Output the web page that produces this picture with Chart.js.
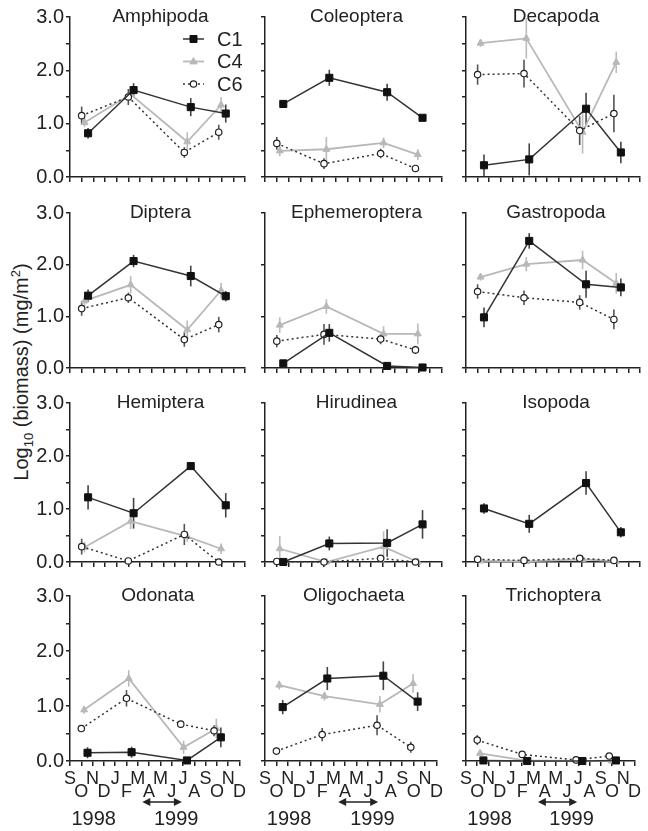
<!DOCTYPE html>
<html>
<head>
<meta charset="utf-8">
<script src="https://cdn.jsdelivr.net/npm/chart.js@4.4.0/dist/chart.umd.min.js"></script>
<style>
  body { margin: 0; background: #fff; width: 648px; height: 831px; overflow: hidden; position: relative;
         font-family: "Liberation Sans", Arial, sans-serif; color: #222; }
  canvas { position: absolute; }
  #ylab { position: absolute; left: 21px; top: 372px; transform: translate(-50%, -50%) rotate(-90deg);
          font-size: 20px; white-space: nowrap; }
  #ylab sub, #ylab sup { font-size: 13px; line-height: 0; }
</style>
</head>
<body>
<div id="ylab">Log<sub>10</sub> (biomass) (mg/m<sup>2</sup>)</div>
<script>
// Panels (taxa), left to right, top to bottom
const taxa = ['Amphipoda', 'Coleoptera', 'Decapoda',
              'Diptera', 'Ephemeroptera', 'Gastropoda',
              'Hemiptera', 'Hirudinea', 'Isopoda',
              'Odonata', 'Oligochaeta', 'Trichoptera'];

// x axis: months Sep 1998 .. Dec 1999 (index 0..15)
const monthLabels = ['S', 'O', 'N', 'D', 'J', 'F', 'M', 'A', 'M', 'J', 'J', 'A', 'S', 'O', 'N', 'D'];
const yearLabels = ['1998', '1999'];
const yearPos = [2.1, 9.4];
const arrowSpan = [6.4, 9.9];
const yTicks = [0, 0.5, 1, 1.5, 2, 2.5, 3];

// sampling dates (month index) for each site
const c1Dates = [1.55, 5.45, 10.35, 13.35];
const c4Dates = [1.25, 5.2, 10.05, 12.95];
const c6Dates = [1.0, 5.0, 9.8, 12.75];

// values per taxon (same order as taxa)
const c1Values = [
  [0.82, 1.63, 1.31, 1.19], [1.37, 1.86, 1.59, 1.11], [0.22, 0.33, 1.28, 0.46],
  [1.40, 2.07, 1.78, 1.39], [0.09, 0.68, 0.04, 0.01], [0.98, 2.46, 1.62, 1.56],
  [1.22, 0.92, 1.81, 1.07], [0.00, 0.35, 0.36, 0.71], [1.01, 0.72, 1.49, 0.56],
  [0.15, 0.16, 0.01, 0.43], [0.98, 1.50, 1.55, 1.08], [0.01, 0.00, 0.00, 0.01]
];
const c1Errors = [
  [0.10, 0.13, 0.17, 0.17], [0.06, 0.15, 0.16, 0.04], [0.20, 0.30, 0.30, 0.20],
  [0.12, 0.12, 0.20, 0.10], [0.04, 0.17, 0.02, 0.02], [0.19, 0.15, 0.26, 0.17],
  [0.23, 0.29, 0.05, 0.23], [0.02, 0.13, 0.26, 0.27], [0.10, 0.17, 0.22, 0.10],
  [0.10, 0.10, 0.02, 0.18], [0.13, 0.21, 0.26, 0.17], [0, 0, 0, 0]
];
const c4Values = [
  [1.02, 1.55, 0.66, 1.35], [0.49, 0.52, 0.64, 0.42], [2.51, 2.60, 0.84, 2.15],
  [1.30, 1.61, 0.74, 1.50], [0.83, 1.19, 0.66, 0.66], [1.76, 2.01, 2.09, 1.64],
  [0.28, 0.77, 0.48, 0.25], [0.25, 0.00, 0.29, 0.00], [0.02, 0.01, 0.05, 0.01],
  [0.93, 1.50, 0.25, 0.59], [1.38, 1.18, 1.03, 1.41], [0.14, 0.01, 0.00, 0.00]
];
const c4Errors = [
  [0.08, 0.12, 0.18, 0.15], [0.10, 0.23, 0.10, 0.10], [0.07, 0.38, 0.40, 0.20],
  [0.10, 0.17, 0.18, 0.15], [0.15, 0.14, 0.15, 0.20], [0.07, 0.14, 0.18, 0.20],
  [0.10, 0.15, 0.10, 0.10], [0.24, 0.02, 0.29, 0.02], [0.02, 0.01, 0.03, 0.01],
  [0.07, 0.15, 0.12, 0.18], [0.08, 0.08, 0.15, 0.17], [0.05, 0.01, 0, 0]
];
const c6Values = [
  [1.15, 1.50, 0.46, 0.84], [0.63, 0.25, 0.44, 0.16], [1.92, 1.94, 0.87, 1.19],
  [1.15, 1.36, 0.55, 0.84], [0.52, 0.65, 0.56, 0.35], [1.48, 1.36, 1.27, 0.94],
  [0.29, 0.02, 0.52, 0.00], [0.01, 0.00, 0.07, 0.00], [0.05, 0.03, 0.07, 0.03],
  [0.59, 1.14, 0.67, 0.55], [0.18, 0.48, 0.65, 0.25], [0.38, 0.12, 0.02, 0.09]
];
const c6Errors = [
  [0.17, 0.15, 0.10, 0.14], [0.12, 0.10, 0.09, 0.06], [0.19, 0.26, 0.27, 0.35],
  [0.14, 0.10, 0.14, 0.15], [0.12, 0.20, 0.10, 0.08], [0.14, 0.14, 0.14, 0.19],
  [0.15, 0.02, 0.20, 0.01], [0.02, 0.01, 0.02, 0.01], [0.02, 0.01, 0.02, 0.01],
  [0.06, 0.15, 0.06, 0.10], [0.06, 0.12, 0.18, 0.10], [0.09, 0.03, 0.01, 0.02]
];

// panel geometry
const colAxisX = [70, 265, 466];
const colWidth = [175, 177, 174];
const rowTop = [17, 213, 403, 596];
const rowBottom = [183, 374, 568, 761];
const FONT = '"Liberation Sans", Arial, sans-serif';
const INK = '#222';

// vertical error bars, drawn under the markers
const errorBars = {
  id: 'errorBars',
  beforeDatasetsDraw(chart) {
    const { ctx, scales: { x, y } } = chart;
    chart.data.datasets.forEach(ds => {
      ctx.save();
      ctx.strokeStyle = ds.errColor;
      ctx.lineWidth = 1.6;
      ds.data.forEach((p, k) => {
        const e = ds.errors[k];
        if (!e) return;
        const px = x.getPixelForValue(p.x);
        ctx.beginPath();
        ctx.moveTo(px, y.getPixelForValue(Math.max(0, p.y - e)));
        ctx.lineTo(px, y.getPixelForValue(p.y + e));
        ctx.stroke();
      });
      ctx.restore();
    });
  }
};

// panel name, legend, arrow + years
const decorations = {
  id: 'decorations',
  afterDraw(chart, args, opts) {
    const { ctx, chartArea: area, scales: { x } } = chart;
    ctx.save();
    ctx.fillStyle = INK;
    ctx.font = '19px ' + FONT;
    ctx.textAlign = 'center';
    ctx.textBaseline = 'alphabetic';
    ctx.fillText(opts.title, (area.left + area.right) / 2 + 3, area.top + 5);

    if (opts.legend) {
      const items = chart.data.datasets.slice().sort((a, b) => a.label.localeCompare(b.label));
      items.forEach((ds, k) => {
        const yy = area.top + 22 + k * 22.5;
        const x0 = area.left + 113, x1 = area.left + 134, xm = (x0 + x1) / 2;
        ctx.strokeStyle = ds.borderColor;
        ctx.lineWidth = ds.borderWidth;
        ctx.setLineDash(ds.borderDash || []);
        ctx.beginPath(); ctx.moveTo(x0, yy); ctx.lineTo(x1, yy); ctx.stroke();
        ctx.setLineDash([]);
        ctx.fillStyle = ds.pointBackgroundColor;
        ctx.strokeStyle = ds.pointBorderColor;
        ctx.lineWidth = ds.pointBorderWidth;
        ctx.beginPath();
        if (ds.pointStyle === 'rect') {
          ctx.rect(xm - 3.5, yy - 3.5, 7, 7);
        } else if (ds.pointStyle === 'triangle') {
          ctx.moveTo(xm, yy - 4); ctx.lineTo(xm + 3.6, yy + 2.4); ctx.lineTo(xm - 3.6, yy + 2.4); ctx.closePath();
        } else {
          ctx.arc(xm, yy, 3.2, 0, Math.PI * 2);
        }
        ctx.fill(); ctx.stroke();
        ctx.fillStyle = INK;
        ctx.font = '20px ' + FONT;
        ctx.textAlign = 'left';
        ctx.textBaseline = 'middle';
        ctx.fillText(ds.label, area.left + 147, yy + 1);
      });
    }

    if (opts.years) {
      const ya = area.bottom + 41;
      const xa = x.getPixelForValue(arrowSpan[0]), xb = x.getPixelForValue(arrowSpan[1]);
      ctx.strokeStyle = INK; ctx.fillStyle = INK; ctx.lineWidth = 1.5;
      ctx.beginPath(); ctx.moveTo(xa + 4, ya); ctx.lineTo(xb - 4, ya); ctx.stroke();
      ctx.beginPath(); ctx.moveTo(xa, ya); ctx.lineTo(xa + 8, ya - 4); ctx.lineTo(xa + 8, ya + 4); ctx.closePath(); ctx.fill();
      ctx.beginPath(); ctx.moveTo(xb, ya); ctx.lineTo(xb - 8, ya - 4); ctx.lineTo(xb - 8, ya + 4); ctx.closePath(); ctx.fill();
      ctx.font = '20px ' + FONT;
      ctx.textAlign = 'center';
      ctx.textBaseline = 'middle';
      yearLabels.forEach((t, k) => ctx.fillText(t, x.getPixelForValue(yearPos[k]), area.bottom + 58));
    }
    ctx.restore();
  }
};

function series(label, dates, values, errors, style) {
  return Object.assign({
    label,
    data: dates.map((d, k) => ({ x: d, y: values[k] })),
    errors,
    clip: false,
    fill: false,
    tension: 0
  }, style);
}

const c1Style = { borderColor: '#333', borderWidth: 1.5, pointStyle: 'rect', pointRadius: 5,
  pointBackgroundColor: '#111', pointBorderColor: '#111', pointBorderWidth: 1, errColor: '#444' };
const c4Style = { borderColor: '#b8b8b8', borderWidth: 1.8, pointStyle: 'triangle', pointRadius: 4,
  pointBackgroundColor: '#b8b8b8', pointBorderColor: '#b8b8b8', pointBorderWidth: 1, errColor: '#bbb' };
const c6Style = { borderColor: '#333', borderWidth: 1.5, borderDash: [2, 3], pointStyle: 'circle', pointRadius: 3.2,
  pointBackgroundColor: '#fff', pointBorderColor: '#222', pointBorderWidth: 1.2, errColor: '#555' };

taxa.forEach((name, i) => {
  const row = Math.floor(i / 3), col = i % 3;
  const bottomRow = row === 3;
  const xh = bottomRow ? 70 : 8;
  const canvas = document.createElement('canvas');
  const w = 70 + colWidth[col] + 8;
  const h = 17 + (rowBottom[row] - rowTop[row]) + xh;
  canvas.width = w; canvas.height = h;
  canvas.style.left = (colAxisX[col] - 70) + 'px';
  canvas.style.top = (rowTop[row] - 17) + 'px';
  canvas.style.width = w + 'px'; canvas.style.height = h + 'px';
  document.body.appendChild(canvas);

  new Chart(canvas, {
    type: 'line',
    data: {
      datasets: [
        series('C1', c1Dates, c1Values[i], c1Errors[i], c1Style),
        series('C6', c6Dates, c6Values[i], c6Errors[i], c6Style),
        series('C4', c4Dates, c4Values[i], c4Errors[i], c4Style)
      ]
    },
    options: {
      responsive: false,
      animation: false,
      layout: { padding: { top: 17, right: 8, left: 0, bottom: 0 } },
      plugins: {
        legend: { display: false },
        tooltip: { enabled: false },
        decorations: { title: name, legend: i === 0, years: bottomRow }
      },
      scales: {
        x: {
          type: 'linear', min: 0, max: 15,
          afterFit: s => { s.height = xh; },
          grid: { drawOnChartArea: false, tickLength: 5, color: INK, lineWidth: 1.5 },
          border: { color: INK, width: 1.5 },
          ticks: {
            stepSize: 1, autoSkip: false, maxRotation: 0, padding: 7,
            color: INK, font: { family: FONT, size: 18, lineHeight: 0.72 },
            callback: v => bottomRow ? (v % 2 === 0 ? [monthLabels[v]] : ['', monthLabels[v]]) : ''
          }
        },
        y: {
          min: 0, max: 3,
          afterFit: s => { s.width = 70; },
          afterBuildTicks: s => { s.ticks = yTicks.map(v => ({ value: v })); },
          grid: { drawOnChartArea: false, tickLength: 4, color: INK, lineWidth: 1.5 },
          border: { color: INK, width: 1.5 },
          ticks: {
            padding: 2, color: INK, font: { family: FONT, size: 20 },
            callback: v => (col === 0 && Number.isInteger(v)) ? v.toFixed(1) : ''
          }
        }
      }
    },
    plugins: [errorBars, decorations]
  });
});
</script>
</body>
</html>
